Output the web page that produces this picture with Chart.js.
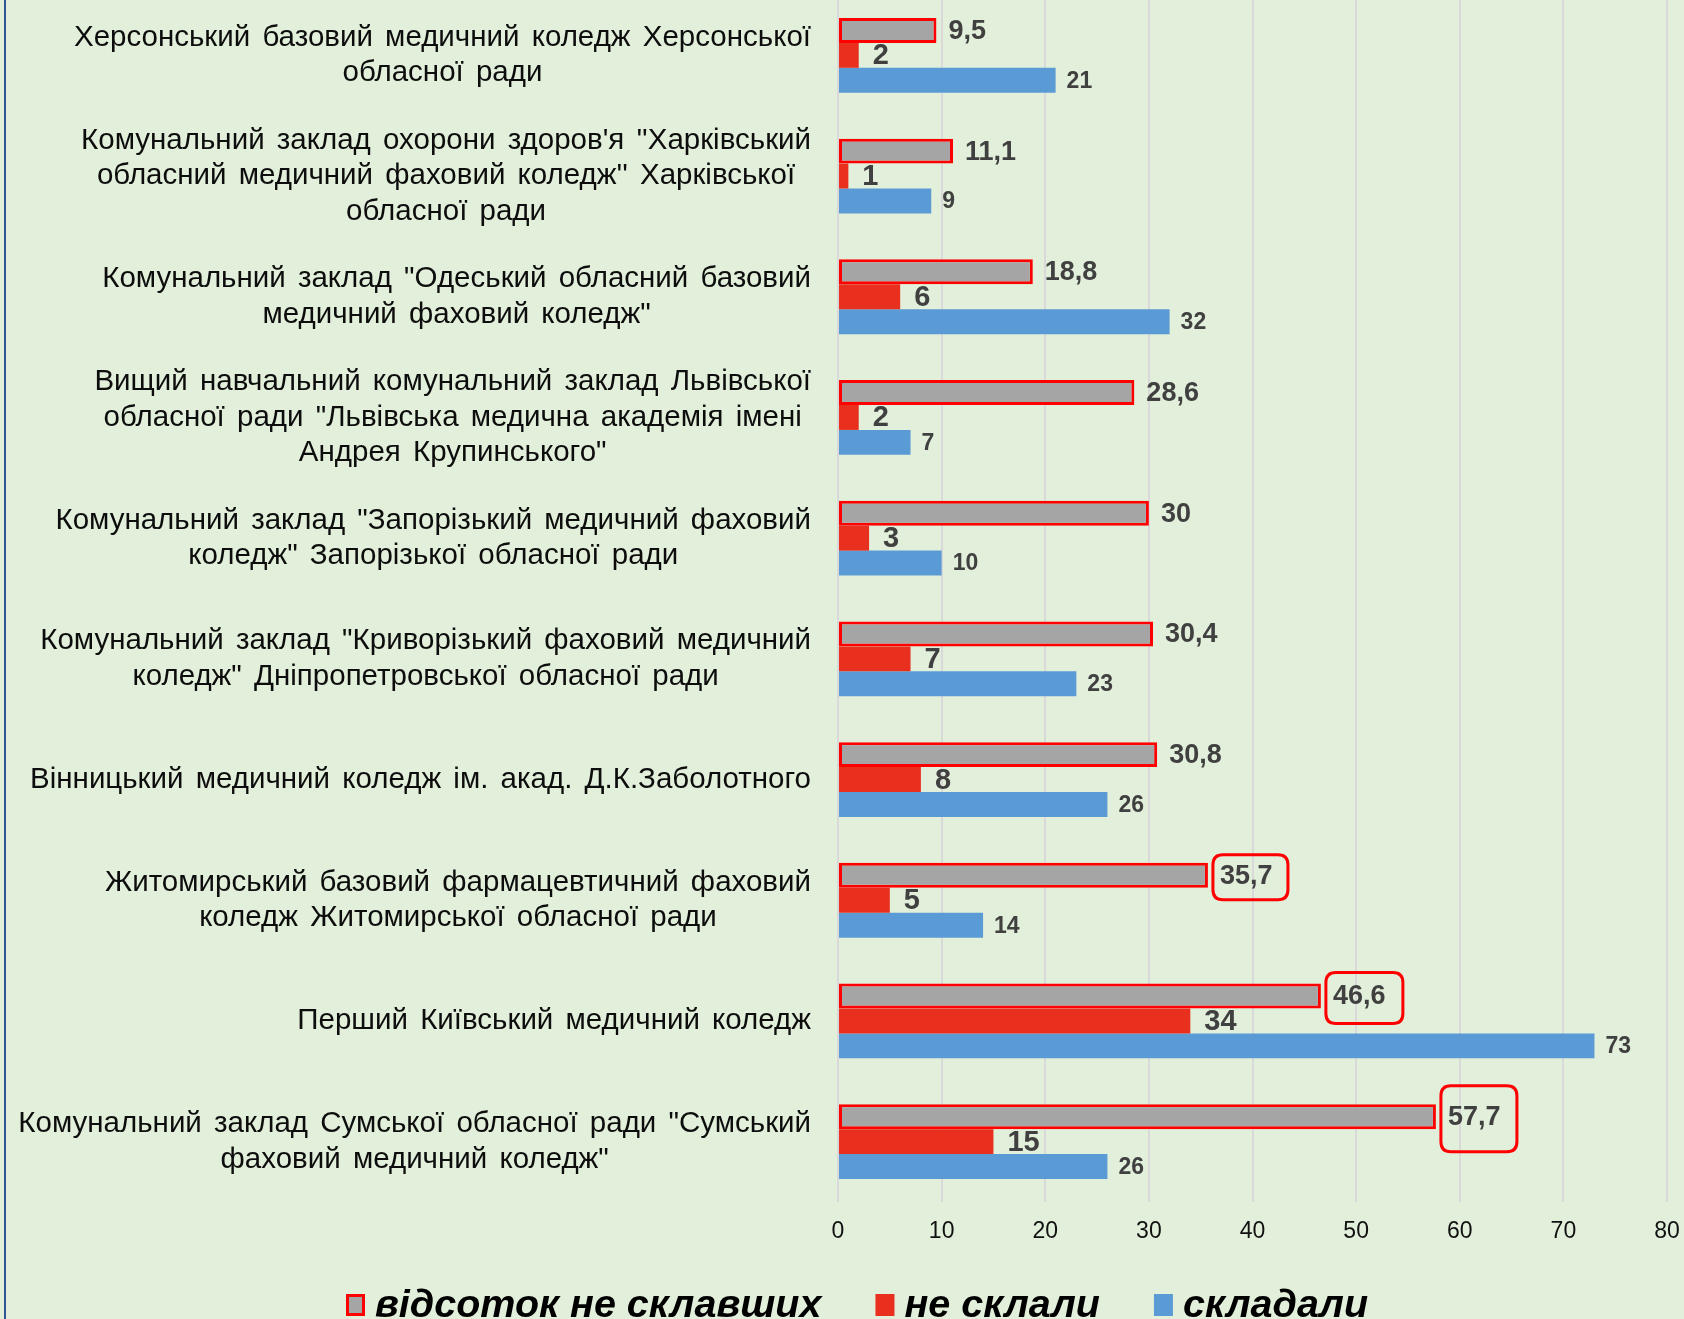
<!DOCTYPE html>
<html>
<head>
<meta charset="utf-8">
<script src="https://cdn.jsdelivr.net/npm/chart.js@4.4.1/dist/chart.umd.min.js"></script>
<style>
    body { margin: 0; background: #E2EFDA; overflow: hidden; font-family: Arial, "Liberation Sans", sans-serif; }
    #wrap { position: absolute; left: 0; top: -5px; width: 1684px; height: 1324px; }
    #edge { position: absolute; left: 4px; top: 0; width: 2px; height: 1319px; background: #2F5597; }
</style>
</head>
<body>
<div id="edge"></div>
<div id="wrap"><canvas id="collegeChart"></canvas></div>
<script>
const colleges = [
    ["Херсонський базовий медичний коледж Херсонської", "обласної ради"],
    ["Комунальний заклад охорони здоров'я ''Харківський", "обласний медичний фаховий коледж'' Харківської", "обласної ради"],
    ["Комунальний заклад \"Одеський обласний базовий", "медичний фаховий коледж\""],
    ["Вищий навчальний комунальний заклад Львівської", "обласної ради \"Львівська медична академія імені", "Андрея Крупинського\""],
    ["Комунальний заклад \"Запорізький медичний фаховий", "коледж\" Запорізької обласної ради"],
    ["Комунальний заклад \"Криворізький фаховий медичний", "коледж\" Дніпропетровської обласної ради"],
    ["Вінницький медичний коледж ім. акад. Д.К.Заболотного"],
    ["Житомирський базовий фармацевтичний фаховий", "коледж Житомирської обласної ради"],
    ["Перший Київський медичний коледж"],
    ["Комунальний заклад Сумської обласної ради \"Сумський", "фаховий медичний коледж\""]
];
const percentFailed = [9.5, 11.1, 18.8, 28.6, 30, 30.4, 30.8, 35.7, 46.6, 57.7];
const failed = [2, 1, 6, 2, 3, 7, 8, 5, 34, 15];
const tookExam = [21, 9, 32, 7, 10, 23, 26, 14, 73, 26];
const xTicks = [0, 10, 20, 30, 40, 50, 60, 70, 80];
const seriesNames = ["відсоток не склавших", "не склали", "складали"];

const FONT = 'Arial, "Liberation Sans", sans-serif';

// boxed percentages at the bottom three rows
const highlighted = [
    { index: 7, w: 75, h: 45 },
    { index: 8, w: 77, h: 51 },
    { index: 9, w: 76, h: 66 }
];

function fmt(v) {
    return String(v).replace('.', ',');
}

function roundRect(ctx, x, y, w, h, r) {
    ctx.beginPath();
    ctx.moveTo(x + r, y);
    ctx.lineTo(x + w - r, y);
    ctx.quadraticCurveTo(x + w, y, x + w, y + r);
    ctx.lineTo(x + w, y + h - r);
    ctx.quadraticCurveTo(x + w, y + h, x + w - r, y + h);
    ctx.lineTo(x + r, y + h);
    ctx.quadraticCurveTo(x, y + h, x, y + h - r);
    ctx.lineTo(x, y + r);
    ctx.quadraticCurveTo(x, y, x + r, y);
    ctx.closePath();
}

const collegeLabels = {
    id: 'collegeLabels',
    afterDraw(chart) {
        const ctx = chart.ctx;
        const yScale = chart.scales.y;
        const right = 811;
        const lineH = 35.5;
        ctx.save();
        ctx.font = '29.5px ' + FONT;
        ctx.wordSpacing = '4px';
        ctx.fillStyle = '#0d0d0d';
        ctx.textAlign = 'center';
        ctx.textBaseline = 'middle';
        colleges.forEach(function(lines, i) {
            const cy = yScale.getPixelForValue(i);
            const widths = lines.map(function(l) { return ctx.measureText(l).width; });
            const blockW = Math.max.apply(null, widths);
            const cx = right - blockW / 2;
            const top = cy - (lines.length - 1) * lineH / 2;
            lines.forEach(function(l, k) {
                ctx.fillText(l, cx, top + k * lineH);
            });
        });
        ctx.restore();
    }
};

const valueLabels = {
    id: 'valueLabels',
    afterDatasetsDraw(chart) {
        const ctx = chart.ctx;
        const fonts = ['bold 27px ' + FONT, 'bold 29px ' + FONT, 'bold 23px ' + FONT];
        const offsets = [12, 14, 11];
        ctx.save();
        ctx.fillStyle = '#404040';
        ctx.textAlign = 'left';
        ctx.textBaseline = 'middle';
        chart.data.datasets.forEach(function(ds, d) {
            const meta = chart.getDatasetMeta(d);
            ctx.font = fonts[d];
            meta.data.forEach(function(bar, i) {
                ctx.fillText(fmt(ds.data[i]), bar.x + offsets[d], bar.y + 1);
            });
        });
        // red rounded frames
        const meta0 = chart.getDatasetMeta(0);
        ctx.strokeStyle = '#FF0000';
        ctx.lineWidth = 3;
        highlighted.forEach(function(h) {
            const bar = meta0.data[h.index];
            roundRect(ctx, bar.x + 5, bar.y - h.h / 2 + 2, h.w, h.h, 10);
            ctx.stroke();
        });
        ctx.restore();
    }
};

const bottomLegend = {
    id: 'bottomLegend',
    afterDraw(chart) {
        const ctx = chart.ctx;
        let x = 346;
        const y = 1311;
        ctx.save();
        ctx.font = 'italic bold 39.5px ' + FONT;
        ctx.textBaseline = 'middle';
        ctx.textAlign = 'left';
        chart.data.datasets.forEach(function(ds) {
            ctx.fillStyle = ds.backgroundColor;
            ctx.fillRect(x, y - 12, 19, 22);
            if (ds.borderWidth) {
                ctx.strokeStyle = ds.borderColor;
                ctx.lineWidth = 3;
                ctx.strokeRect(x + 1.5, y - 10.5, 16, 19);
            }
            x += 29;
            ctx.fillStyle = '#000';
            ctx.fillText(ds.label, x, y);
            x += ctx.measureText(ds.label).width + 54;
        });
        ctx.restore();
    }
};

const data = {
    labels: colleges,
    datasets: [{
        label: seriesNames[0],
        data: percentFailed,
        backgroundColor: '#A5A5A5',
        borderColor: '#FF0000',
        borderWidth: 3,
        borderSkipped: false
    }, {
        label: seriesNames[1],
        data: failed,
        backgroundColor: '#E9301F',
        borderWidth: 0
    }, {
        label: seriesNames[2],
        data: tookExam,
        backgroundColor: '#5B9BD5',
        borderWidth: 0
    }]
};

const config = {
    type: 'bar',
    data,
    options: {
        indexAxis: 'y',
        responsive: true,
        maintainAspectRatio: false,
        animation: false,
        layout: { padding: { left: 0, right: 17, top: 0, bottom: 0 } },
        datasets: {
            bar: { categoryPercentage: 0.62, barPercentage: 1 }
        },
        scales: {
            x: {
                min: 0,
                max: 80,
                afterBuildTicks(scale) {
                    scale.ticks = xTicks.map(function(v) { return { value: v }; });
                },
                afterFit(scale) {
                    scale.height = 117;
                    scale.paddingLeft = 0;
                    scale.paddingRight = 0;
                },
                grid: { color: '#D9D9D9', lineWidth: 2, drawTicks: false },
                border: { display: false },
                ticks: {
                    padding: 16,
                    color: '#111',
                    font: { family: FONT, size: 23 }
                }
            },
            y: {
                afterFit(scale) { scale.width = 838; },
                grid: { display: false },
                border: { display: false },
                ticks: { display: false }
            }
        },
        plugins: {
            legend: { display: false },
            tooltip: { enabled: false }
        }
    },
    plugins: [collegeLabels, valueLabels, bottomLegend]
};

const collegeChart = new Chart(
    document.getElementById('collegeChart'),
    config
);
</script>
</body>
</html>
